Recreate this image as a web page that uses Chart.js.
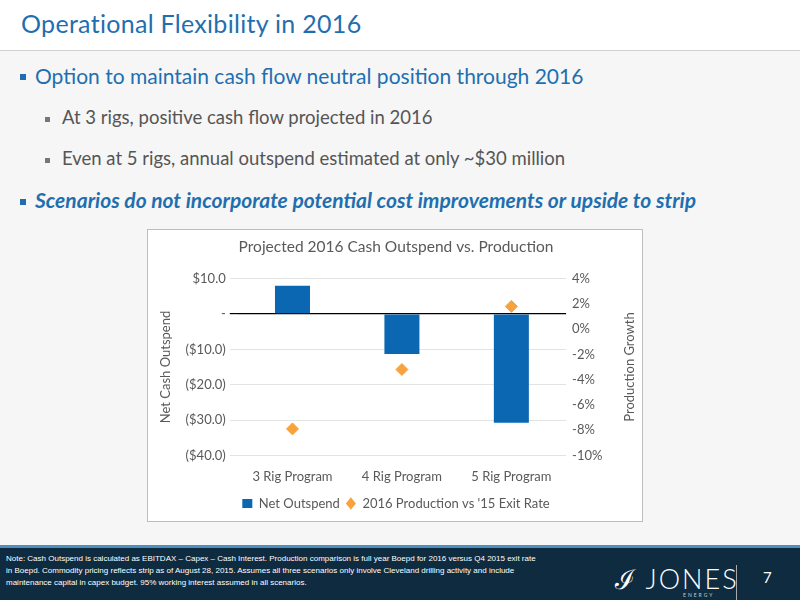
<!DOCTYPE html>
<html>
<head>
<meta charset="utf-8">
<script src="https://cdn.jsdelivr.net/npm/chart.js@4"></script>
<style>
  body { margin:0; width:800px; height:600px; position:relative; overflow:hidden; font-family: Lato, "Open Sans", sans-serif; background:#f6f6f6; }
  #header { position:absolute; left:0; top:0; width:800px; height:50px; background:#fff; border-bottom:1px solid #cfcfcf; }
  #title { position:absolute; left:21px; top:8px; font-size:25px; color:#1f6fb0; letter-spacing:0.3px; }
  .b { position:absolute; white-space:nowrap; }
  .l1 { left:35px; font-size:21px; color:#1f6fb0; }
  .l2 { left:62px; font-size:18.5px; color:#555; }
  .sq1 { position:absolute; left:20px; width:6px; height:6px; background:#1f6fb0; }
  .sq2 { position:absolute; left:45px; width:5px; height:5px; background:#777; }
  #chartbox { position:absolute; left:147px; top:229px; width:494px; height:291px; background:#fff; border:1px solid #bdbdbd; }
  #footer { position:absolute; left:0; top:545px; width:800px; height:55px; background:#0e2b3f; border-top:3px solid #4d8fbf; }
  #note { position:absolute; left:6px; top:5px; font-family:"Liberation Sans Narrow", sans-serif; font-size:8px; line-height:12px; color:#fff; }
  #logo { position:absolute; left:615px; top:12px; color:#fff; font-size:27px; letter-spacing:2px; font-weight:300; }
  #energy { position:absolute; left:683px; top:44px; color:#ccc; font-size:5px; letter-spacing:2px; }
  #bar { position:absolute; left:736px; top:17px; width:1px; height:38px; background:#aaa; }
  #pg { position:absolute; left:763px; top:20px; color:#fff; font-size:15px; }
</style>
</head>
<body>
<div id="header"><div id="title">Operational Flexibility in 2016</div></div>
<div class="sq1" style="top:74px"></div>
<div class="b l1" style="top:63px">Option to maintain cash flow neutral position through 2016</div>
<div class="sq2" style="top:117px"></div>
<div class="b l2" style="top:106px">At 3 rigs, positive cash flow projected in 2016</div>
<div class="sq2" style="top:158px"></div>
<div class="b l2" style="top:147px">Even at 5 rigs, annual outspend estimated at only ~$30 million</div>
<div class="sq1" style="top:199px"></div>
<div class="b l1" style="top:187px;font-weight:bold;font-style:italic">Scenarios do not incorporate potential cost improvements or upside to strip</div>
<div id="chartbox"><canvas id="chart" width="494" height="291"></canvas></div>
<div id="footer">
  <div id="note">Note: Cash Outspend is calculated as EBITDAX – Capex – Cash Interest. Production comparison is full year Boepd for 2016 versus Q4 2015 exit rate<br>in Boepd. Commodity pricing reflects strip as of August 28, 2015. Assumes all three scenarios only involve Cleveland drilling activity and include<br>maintenance capital in capex budget. 95% working interest assumed in all scenarios.</div>
  <div id="logo">&#x2110; JONES</div>
  <div id="energy">ENERGY</div>
  <div id="bar"></div>
  <div id="pg">7</div>
</div>
<script>
const categories = ['3 Rig Program', '4 Rig Program', '5 Rig Program'];
const netOutspend = [8.0, -11.3, -30.8];
const productionGrowth = [-7.9, -3.2, 1.8];

const fmtCash = (v) => {
  if (v === 0) return '-';
  let s = '$' + Math.abs(v).toFixed(1);
  return v < 0 ? '(' + s + ')' : s;
}

// right axis title reads bottom-to-top like the left one
const rightTitle = {
  id: 'rightTitle',
  afterDraw(chart) {
    const a = chart.scales.y1, ctx = chart.ctx;
    ctx.save();
    ctx.translate(a.right - 8, (a.top + a.bottom) / 2);
    ctx.rotate(-Math.PI / 2);
    ctx.fillStyle = '#595959';
    ctx.font = '13px Lato';
    ctx.textAlign = 'center';
    ctx.textBaseline = 'middle';
    ctx.fillText('Production Growth', 0, 0);
    ctx.restore();
  }
};

new Chart(document.getElementById('chart').getContext('2d'), {
  data: {
    labels: categories,
    datasets: [{
      type: 'bar',
      label: 'Net Outspend',
      data: netOutspend,
      backgroundColor: '#0b67b2',
      yAxisID: 'y',
      barPercentage: 0.32,
      categoryPercentage: 1,
      order: 2
    }, {
      type: 'line',
      label: "2016 Production vs '15 Exit Rate",
      data: productionGrowth,
      showLine: false,
      pointStyle: 'rectRot',
      pointRadius: 6,
      pointBackgroundColor: '#f7a23c',
      pointBorderColor: '#f7a23c',
      backgroundColor: '#f7a23c',
      borderColor: '#f7a23c',
      yAxisID: 'y1',
      order: 1
    }]
  },
  plugins: [rightTitle],
  options: {
    responsive: false,
    animation: false,
    layout: { padding: { left: 6, right: 4, top: 2, bottom: 1 } },
    plugins: {
      title: { display: true, text: 'Projected 2016 Cash Outspend vs. Production', color: '#595959', font: { family: 'Lato', size: 15.5, weight: 'normal' }, padding: { top: 6, bottom: 22 } },
      legend: {
        position: 'bottom',
        labels: { color: '#595959', font: { family: 'Lato', size: 13 }, boxWidth: 9, boxHeight: 9, padding: 6,
          generateLabels: (chart) => chart.data.datasets.map((d, i) => ({
            text: d.label, fillStyle: d.backgroundColor, strokeStyle: d.backgroundColor, lineWidth: 0,
            pointStyle: i == 0 ? 'rect' : 'rectRot', datasetIndex: i, fontColor: '#595959'
          })), usePointStyle: true, pointStyleWidth: 10 }
      }
    },
    scales: {
      x: { grid: { display: false }, border: { display: false }, ticks: { color: '#595959', padding: 6, font: { family: 'Lato', size: 13 } } },
      y: {
        position: 'left', min: -40, max: 10,
        ticks: { stepSize: 10, color: '#595959', padding: 4, font: { family: 'Lato', size: 13 }, callback: fmtCash },
        grid: { color: (c) => c.tick.value === 0 ? '#000' : '#e3e3e3', lineWidth: (c) => c.tick.value === 0 ? 1.2 : 1 },
        border: { display: false },
        title: { display: true, text: 'Net Cash Outspend', color: '#595959', padding: { top: 4, bottom: 8 }, font: { family: 'Lato', size: 13 } }
      },
      y1: {
        position: 'right', min: -10, max: 4,
        ticks: { stepSize: 2, color: '#595959', padding: 6, font: { family: 'Lato', size: 13 }, callback: (v) => v + '%' },
        grid: { drawOnChartArea: false, drawTicks: false }, border: { display: false },
        title: { display: true, text: 'Production Growth', color: 'rgba(0,0,0,0)', padding: { top: 10, bottom: 4 }, font: { family: 'Lato', size: 13 } }
      }
    }
  }
});
</script>
</body>
</html>
